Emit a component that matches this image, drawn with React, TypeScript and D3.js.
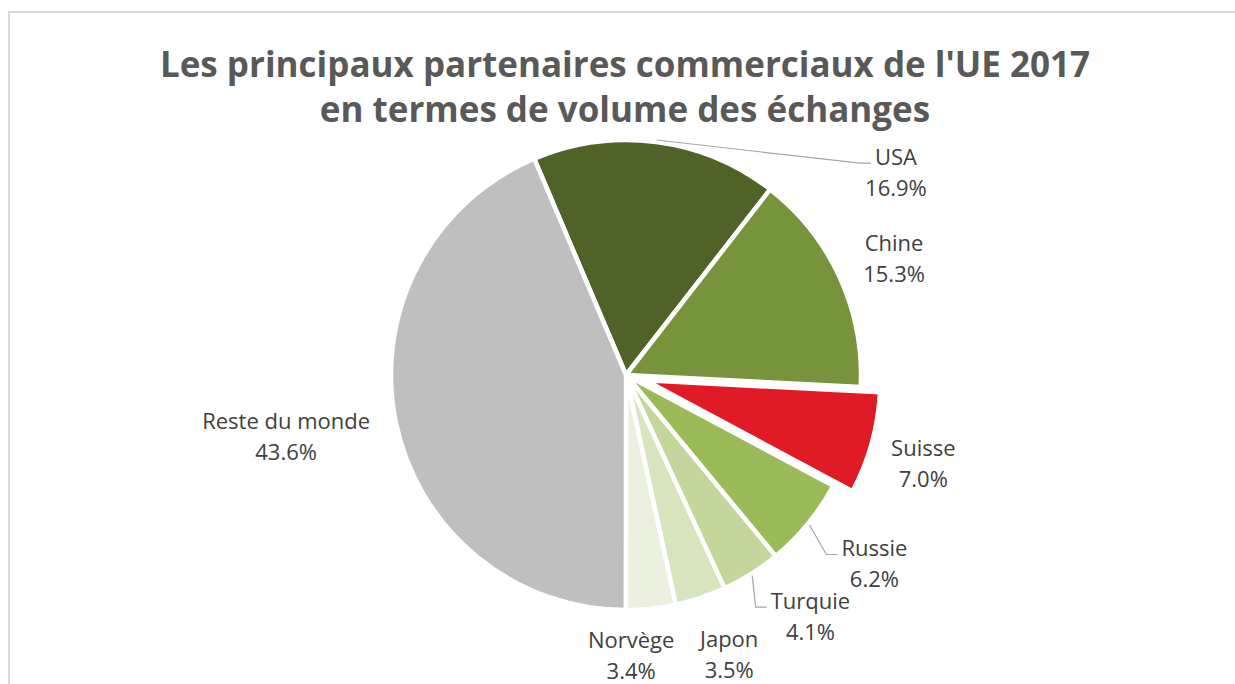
import React, { useRef, useEffect } from 'react';
import * as d3 from 'd3';

const partners = ['USA', 'Chine', 'Suisse', 'Russie', 'Turquie', 'Japon', 'Norvège', 'Reste du monde'];
const shares = [16.9, 15.3, 7.0, 6.2, 4.1, 3.5, 3.4, 43.6];
const sliceColors = ['#4f6228', '#77933c', '#e11b25', '#9bbb59', '#c3d69b', '#d7e4bd', '#ebf1de', '#bfbfbf'];
const explodedPartner = 'Suisse';
const leaderPartners = ['USA', 'Russie', 'Turquie'];
const titleLines = ["Les principaux partenaires commerciaux de l'UE 2017", 'en termes de volume des échanges'];

// labels moved by hand in the original (px offsets from the default spot)
const labelNudge: Record<string, [number, number]> = {
  USA: [232, 89],
  Chine: [1, 6],
  Suisse: [-5, 5],
  Russie: [21, 3],
  Turquie: [28, -7],
  Japon: [10, 1],
  'Norvège': [-26, -12],
  'Reste du monde': [-52, 3],
};

function PieChart({ width = 1235, height = 684 }) {
  const svgRef = useRef<SVGSVGElement>(null);

  useEffect(() => {
    document.body.style.margin = '0';
    const svg = d3.select(svgRef.current);
    svg.selectAll('*').remove();
    svg.attr('width', width).attr('height', height).style('background', '#ffffff');

    const cx = 626;
    const cy = 375;
    const radius = 235;
    const explode = 20;
    const labelRadius = radius * 1.25;
    const start = (-23 * Math.PI) / 180;

    // chart frame (cropped on the right and bottom)
    svg.append('rect')
      .attr('x', 9).attr('y', 12)
      .attr('width', 1300).attr('height', 800)
      .attr('fill', 'none')
      .attr('stroke', '#d9d9d9')
      .attr('stroke-width', 2);

    // title
    const title = svg.append('text')
      .attr('text-anchor', 'middle')
      .attr('font-family', '"Open Sans", sans-serif')
      .attr('font-weight', 700)
      .attr('font-size', 35)
      .attr('fill', '#595959');
    titleLines.forEach((line, i) => {
      title.append('tspan').attr('x', 625).attr('y', 77 + i * 45).text(line);
    });

    const data = partners.map((name, i) => ({ name, value: shares[i], color: sliceColors[i] }));
    const pie = d3.pie<any>().sort(null).value(d => d.value)
      .startAngle(start).endAngle(start + 2 * Math.PI);
    const arc = d3.arc<any>().innerRadius(0).outerRadius(radius);
    const arcs = pie(data);

    const g = svg.append('g').attr('transform', `translate(${cx},${cy})`);

    const offset = (d: any) => {
      if (d.data.name !== explodedPartner) return [0, 0];
      const mid = (d.startAngle + d.endAngle) / 2;
      return [Math.sin(mid) * explode, -Math.cos(mid) * explode];
    };

    g.selectAll('.slice')
      .data(arcs)
      .enter()
      .append('path')
      .attr('class', 'slice')
      .attr('d', arc)
      .attr('transform', d => `translate(${offset(d)[0]},${offset(d)[1]})`)
      .attr('fill', d => d.data.color)
      .attr('stroke', '#ffffff')
      .attr('stroke-width', 4.5)
      .attr('stroke-linejoin', 'round');

    // data labels
    arcs.forEach(d => {
      const mid = (d.startAngle + d.endAngle) / 2;
      const [ox, oy] = offset(d);
      const [nx, ny] = labelNudge[d.data.name] || [0, 0];
      const bx = Math.sin(mid) * labelRadius + ox + nx;
      const by = -Math.cos(mid) * labelRadius + oy + ny;

      const t = g.append('text')
        .attr('text-anchor', 'middle')
        .attr('font-family', '"Open Sans", sans-serif')
        .attr('font-size', 22)
        .attr('fill', '#404040');
      const first = t.append('tspan').attr('x', bx).attr('y', by - 15.5 + 8).text(d.data.name);
      t.append('tspan').attr('x', bx).attr('y', by + 15.5 + 8).text(d3.format('.1f')(d.data.value) + '%');

      if (leaderPartners.includes(d.data.name)) {
        const w = (first.node() as SVGTSpanElement).getComputedTextLength();
        const left = bx - w / 2;
        const ly = by - 15.5 + 6;
        const pts: [number, number][] = [
          [Math.sin(mid) * (radius + 2), -Math.cos(mid) * (radius + 2)],
          [left - 15, ly],
          [left - 4, ly],
        ];
        g.append('path')
          .attr('d', d3.line()(pts))
          .attr('fill', 'none')
          .attr('stroke', '#a6a6a6')
          .attr('stroke-width', 1.2);
      }
    });
  }, [width, height]);

  return <svg ref={svgRef} style={{ display: 'block' }} />;
}

export default function App() {
  return <PieChart />;
}
